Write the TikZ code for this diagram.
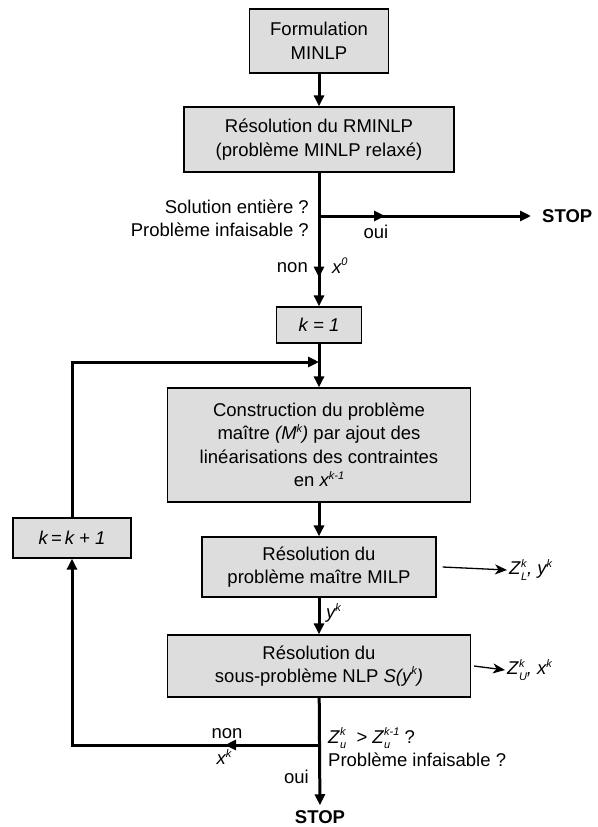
\documentclass[tikz,border=0pt]{standalone}
\usepackage{fontspec}
\setmainfont{Liberation Sans}
\usetikzlibrary{arrows.meta,decorations.markings}

% small raised / lowered italic indices
\newcommand\upidx[1]{\raisebox{0.42em}{\fontsize{11}{11}\selectfont\itshape #1}}
\newcommand\loidx[1]{\raisebox{-0.32em}{\fontsize{11}{11}\selectfont\itshape #1}}
% subscript and superscript stacked, taking the width of the wider one
\newcommand\subsup[2]{%
  \setbox0=\hbox{\loidx{#1}}\setbox2=\hbox{\upidx{#2}}%
  \ifdim\wd0>\wd2 \rlap{\box2}\box0 \else \rlap{\box0}\box2 \fi}

\definecolor{boxgray}{RGB}{221,221,221}

\tikzset{
  txt/.style={font=\fontsize{18.5}{23.5}\selectfont, inner sep=2pt},
  procbox/.style={txt, draw=black, line width=1.2pt, fill=boxgray,
                  align=center, inner sep=0pt},
  flow/.style={line width=3pt, -{Triangle[length=11pt,width=10pt]}},
  thinflow/.style={line width=1.3pt, -{Stealth[length=12pt,width=10pt,inset=3.5pt]}},
  midarrow/.style={postaction=decorate, decoration={markings,
      mark=at position #1 with {\arrow{Triangle[length=11pt,width=10pt]}}}},
}

\begin{document}
\begin{tikzpicture}[x=1pt,y=-1pt]
\useasboundingbox (0,0) rectangle (597,827);

% process boxes
\node[procbox, minimum width=139pt, minimum height=64pt] (form) at (319,41) {Formulation\\MINLP};
\node[procbox, minimum width=270pt, minimum height=65pt] (relax) at (319,139.5) {Résolution du RMINLP\\(problème MINLP relaxé)};
\node[procbox, minimum width=85pt, minimum height=36pt] (kinit) at (319,325) {\textit{k = 1}};
\node[procbox, minimum width=303pt, minimum height=114pt] (master) at (319,445)
  {Construction du problème\\maître \textit{(M\upidx{k})} par ajout des\\linéarisations des contraintes\\en \textit{x\upidx{k-1}}};
\node[procbox, minimum width=234pt, minimum height=60pt] (milp) at (319,567) {Résolution du\\problème maître MILP};
\node[procbox, minimum width=303pt, minimum height=62pt] (nlp) at (319,666) {Résolution du\\sous-problème NLP \textit{S(y\upidx{k})}};
\node[procbox, minimum width=118pt, minimum height=40pt] (kinc) at (72,538) {\textit{k\,=\,k + 1}};

% end points
\node[txt, anchor=west, font=\fontsize{18.5}{23.5}\selectfont\bfseries] (stopA) at (540,216) {STOP};
\node[txt, font=\fontsize{18.5}{23.5}\selectfont\bfseries] (stopB) at (320,817) {STOP};

% junctions on the main line
\coordinate (jA) at (319,216);
\coordinate (jB) at (319,362);
\coordinate (jC) at (319,745);

% labels
\node[txt, anchor=east, align=right] (testA) at (311,218.5) {Solution entière ?\\Problème infaisable ?};
\node[txt] (ouiA) at (376,232) {oui};
\node[txt, anchor=east] (nonA) at (310,268) {non};
\node[txt, anchor=west] (xzero) at (330,266) {\textit{x\upidx{0}}};
\node[txt, anchor=west] (ylab) at (324,613) {\textit{y\upidx{k}}};
\node[txt, anchor=west] (zl) at (507,570) {\textit{Z}\subsup{L}{k}\textit{, y\upidx{k}}};
\node[txt, anchor=west] (zu) at (505,670) {\textit{Z}\subsup{U}{k}\textit{, x\upidx{k}}};
\node[txt, anchor=west, align=left] (testB) at (326,747)
  {\textit{Z}\subsup{u}{k}\ \ \textit{> Z}\subsup{u}{k-1} ?\\Problème infaisable ?};
\node[txt] (nonB) at (227,734) {non};
\node[txt] (xk) at (224,757) {\textit{x\upidx{k}}};
\node[txt, anchor=east] (ouiB) at (311,777) {oui};

% connectors
\draw[flow] (form) -- (relax);
\draw[flow, midarrow=105pt] (relax) -- (kinit);
\draw[flow, midarrow=66pt, shorten >=9pt] (jA) -- (stopA.west);
\draw[flow] (kinit) -- (master);
\draw[flow] (kinc) |- (jB);
\draw[flow] (master) -- (milp);
\draw[flow] (milp) -- (nlp);
\draw[thinflow] ([xshift=6pt]milp.east) -- (zl.west);
\draw[thinflow] ([xshift=3pt]nlp.east) -- (zu.west);
\draw[flow, shorten >=3pt] (nlp) -- (stopB);
\draw[flow, midarrow=94pt] (jC) -| (kinc);
\end{tikzpicture}
\end{document}
